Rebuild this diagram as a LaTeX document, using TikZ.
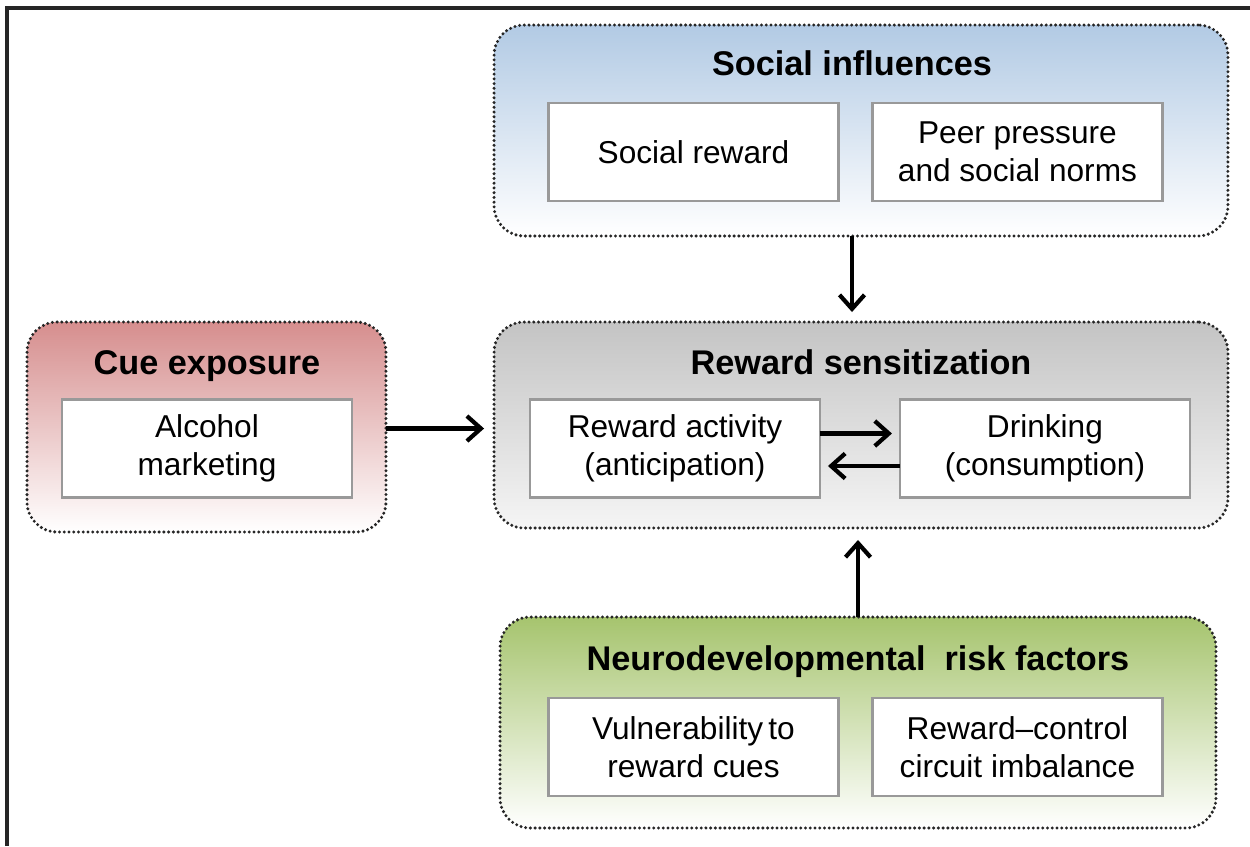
\documentclass[tikz,border=0pt]{standalone}
\usepackage{fontspec}
\setmainfont{Liberation Sans}
\usetikzlibrary{positioning,arrows.meta}

\definecolor{socblue}{RGB}{178,202,228}
\definecolor{cuered}{RGB}{214,142,142}
\definecolor{rewgray}{RGB}{196,196,196}
\definecolor{neugreen}{RGB}{166,196,110}

\tikzset{
  group/.style={rounded corners=0.6cm, draw=black!85, line width=1.9pt,
    dash pattern=on 0pt off 2.7pt, line cap=round, inner sep=0pt, outer sep=0pt},
  item/.style={draw=black!40, fill=white, line width=1.4pt, align=center,
    minimum width=5.8cm, minimum height=1.96cm, inner sep=2pt, outer sep=0pt,
    font=\fontsize{18}{21.5}\selectfont},
  heading/.style={anchor=base, inner sep=0pt, font=\fontsize{19.5}{23}\selectfont\bfseries},
  arr/.style={-{Straight Barb[length=2.8mm,width=5mm]}, line width=2.4pt},
}

\begin{document}
\begin{tikzpicture}[x=0.02cm,y=-0.02cm]
  \useasboundingbox (0,0) rectangle (1250,846);
  % frame
  \draw[line width=2pt, black!85] (7,846) -- (7,8) -- (1250,8);

  % groups
  \node[group, top color=socblue, bottom color=white,
        minimum width=14.68cm, minimum height=4.22cm] (social) at (861,130.5) {};
  \node[group, top color=rewgray, bottom color=white!96!black,
        minimum width=14.68cm, minimum height=4.12cm] (reward) at (861,425) {};
  \node[group, top color=cuered, bottom color=white,
        minimum width=7.18cm, minimum height=4.2cm] (cue) at (206.5,427) {};
  \node[group, top color=neugreen, bottom color=white,
        minimum width=14.32cm, minimum height=4.22cm] (neuro) at (858,722.5) {};

  % headings
  \node[heading] (socttl) at (852,75) {Social influences};
  \node[heading] (rewttl) at (861,374) {Reward sensitization};
  \node[heading] (cuettl) at (207,374) {Cue exposure};
  \node[heading] (neuttl) at (858,670) {Neurodevelopmental\ \ risk factors};

  % boxes
  \node[item] (socrew) at (693.5,152) {Social reward};
  \node[item, right=0.68cm of socrew] (peer) {Peer pressure\\and social norms};
  \node[item] (antic) at (675,448.5) {Reward activity\\(anticipation)};
  \node[item, right=1.6cm of antic] (drink) {Drinking\\(consumption)};
  \node[item] (alcohol) at (207,448.5) {Alcohol\\marketing};
  \node[item] (vuln) at (693.5,747) {Vulnerability\,to\\reward cues};
  \node[item, right=0.68cm of vuln] (imbal) {Reward--control\\circuit imbalance};

  % links
  \draw[arr, shorten >=0.2cm] (social.south -| socttl) -- (reward.north -| socttl);
  \draw[arr, shorten >=0.2cm] (cue.east |- alcohol.north) ++(0,29) coordinate (cuea)
    -- (cuea -| reward.west);
  \draw[arr, shorten >=0.24cm] (neuro.north) -- (reward.south -| neuro.north);
  \draw[arr, shorten >=0.16cm] ([yshift=0.3cm]antic.east) -- ([yshift=0.3cm]drink.west);
  \draw[arr, shorten >=0.16cm] ([yshift=-0.35cm]drink.west) -- ([yshift=-0.35cm]antic.east);
\end{tikzpicture}
\end{document}
